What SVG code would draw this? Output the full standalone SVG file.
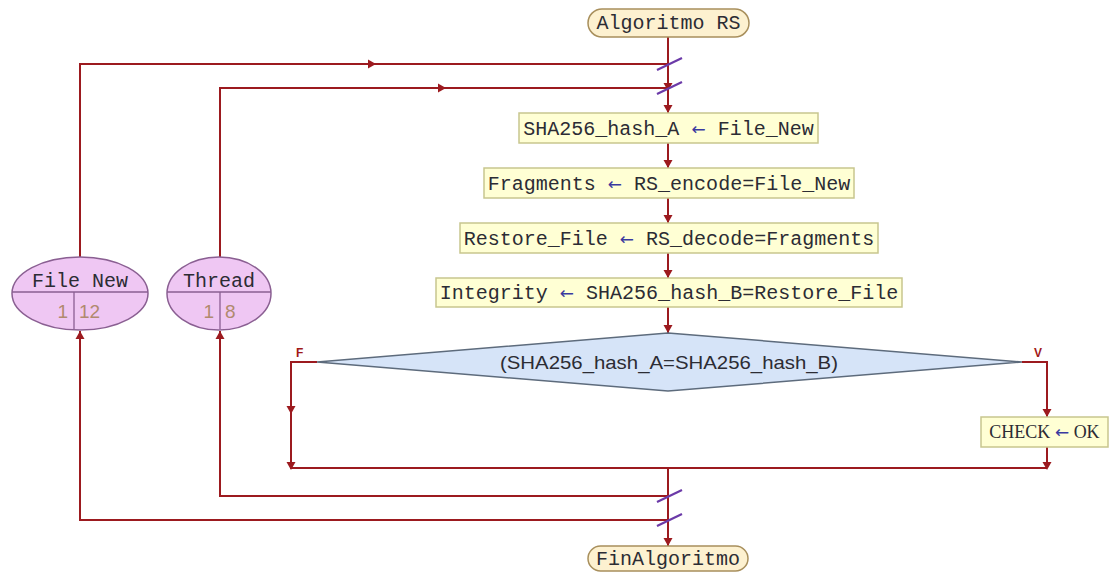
<svg xmlns="http://www.w3.org/2000/svg" width="1110" height="574" viewBox="0 0 1110 574">
<style>
.ln{fill:none;stroke:#9c1a1f;stroke-width:2}
.ah{fill:#9c1a1f}
.sl{stroke:#6b3aa8;stroke-width:2.2}
.term{fill:#fdf1d0;stroke:#a88f5c;stroke-width:1.5}
.box{fill:#ffffd4;stroke:#c8c68e;stroke-width:1.5}
.ell{fill:#efc7f3;stroke:#8a5f92;stroke-width:1.5}
.dia{fill:#d6e4f8;stroke:#5d6b7c;stroke-width:1.5}
.mono{font-family:"Liberation Mono","DejaVu Sans Mono",monospace;font-size:20px;fill:#2c2c34}
.arr{fill:#3a3aa0;font-family:"DejaVu Sans",sans-serif;font-weight:normal;font-size:17px}
.num{font-family:"Liberation Sans",Arial,sans-serif;font-size:19px;fill:#b08a6e}
.lbl{font-family:"Liberation Sans",Arial,sans-serif;font-size:12px;font-weight:bold;fill:#a01818}
</style>
<defs>
<path id="dn" d="M-4.5,-8 L4.5,-8 L0,0 Z"/>
</defs>

<g id="connectors">
<path class="ln" d="M668,37 V113"/>
<path class="ln" d="M80,258 V64 H668"/>
<path class="ln" d="M220,258 V88 H668"/>
<path class="ln" d="M668,143 V168"/>
<path class="ln" d="M668,198 V223"/>
<path class="ln" d="M668,253 V278"/>
<path class="ln" d="M668,307 V333"/>
<path class="ln" d="M317,362 H291 V468 H1047"/>
<path class="ln" d="M1022,362 H1047 V417"/>
<path class="ln" d="M1047,447 V468"/>
<path class="ln" d="M668,468 V546"/>
<path class="ln" d="M668,496 H220 V331"/>
<path class="ln" d="M668,520 H80 V331"/>
<use href="#dn" class="ah" transform="translate(668,91)"/>
<use href="#dn" class="ah" transform="translate(668,113)"/>
<use href="#dn" class="ah" transform="translate(668,168)"/>
<use href="#dn" class="ah" transform="translate(668,223)"/>
<use href="#dn" class="ah" transform="translate(668,278)"/>
<use href="#dn" class="ah" transform="translate(668,333)"/>
<use href="#dn" class="ah" transform="translate(291,414)"/>
<use href="#dn" class="ah" transform="translate(291,470)"/>
<use href="#dn" class="ah" transform="translate(1047,417)"/>
<use href="#dn" class="ah" transform="translate(1047,470)"/>
<use href="#dn" class="ah" transform="translate(668,546)"/>
<use href="#dn" class="ah" transform="translate(376,64) rotate(-90)"/>
<use href="#dn" class="ah" transform="translate(446,88) rotate(-90)"/>
<use href="#dn" class="ah" transform="translate(80,331) rotate(180)"/>
<use href="#dn" class="ah" transform="translate(220,331) rotate(180)"/>
<line class="sl" x1="657" y1="70" x2="682" y2="58"/>
<line class="sl" x1="657" y1="94" x2="682" y2="82"/>
<line class="sl" x1="657" y1="502" x2="682" y2="490"/>
<line class="sl" x1="657" y1="526" x2="682" y2="514"/>
<text class="lbl" x="296" y="357">F</text>
<text class="lbl" x="1034" y="357">V</text>
</g>

<g id="start">
<rect class="term" x="588" y="9" width="161" height="28" rx="14"/>
<text class="mono" x="668.5" y="29" text-anchor="middle">Algoritmo RS</text>
</g>

<g id="file-new">
<ellipse class="ell" cx="80" cy="293.5" rx="68" ry="36.5"/>
<line x1="12" y1="292" x2="148" y2="292" stroke="#8a5f92" stroke-width="1.3"/>
<line x1="74" y1="292" x2="74" y2="329" stroke="#8a5f92" stroke-width="1.3"/>
<text class="mono" x="80" y="287" text-anchor="middle">File New</text>
<text class="num" x="68" y="318" text-anchor="end">1</text>
<text class="num" x="79" y="318">12</text>
</g>

<g id="thread">
<ellipse class="ell" cx="219" cy="293.5" rx="52" ry="36.5"/>
<line x1="167" y1="292" x2="271" y2="292" stroke="#8a5f92" stroke-width="1.3"/>
<line x1="220" y1="292" x2="220" y2="329" stroke="#8a5f92" stroke-width="1.3"/>
<text class="mono" x="219" y="287" text-anchor="middle">Thread</text>
<text class="num" x="214" y="318" text-anchor="end">1</text>
<text class="num" x="225" y="318">8</text>
</g>

<g id="box1">
<rect class="box" x="519" y="113" width="299" height="30"/>
<text class="mono" x="668.5" y="135" text-anchor="middle">SHA256_hash_A <tspan class="arr">←</tspan> File_New</text>
</g>

<g id="box2">
<rect class="box" x="484" y="168" width="370" height="30"/>
<text class="mono" x="669" y="190" text-anchor="middle">Fragments <tspan class="arr">←</tspan> RS_encode=File_New</text>
</g>

<g id="box3">
<rect class="box" x="460" y="223" width="418" height="30"/>
<text class="mono" x="669" y="245" text-anchor="middle">Restore_File <tspan class="arr">←</tspan> RS_decode=Fragments</text>
</g>

<g id="box4">
<rect class="box" x="436" y="278" width="466" height="29"/>
<text class="mono" x="669" y="299" text-anchor="middle">Integrity <tspan class="arr">←</tspan> SHA256_hash_B=Restore_File</text>
</g>

<g id="decision">
<polygon class="dia" points="668,333 1022,362 668,391 317,362"/>
<text x="669" y="369" text-anchor="middle" textLength="338" lengthAdjust="spacingAndGlyphs" font-family="Liberation Sans, Arial, sans-serif" font-size="19" fill="#2c2c34">(SHA256_hash_A=SHA256_hash_B)</text>
</g>

<g id="check">
<rect class="box" x="981" y="417" width="127" height="30"/>
<text x="1044.5" y="438" text-anchor="middle" font-family="Liberation Serif, Times New Roman, serif" font-size="18" fill="#2c2c34">CHECK <tspan class="arr">←</tspan> OK</text>
</g>

<g id="end">
<rect class="term" x="588" y="546" width="160" height="25" rx="12.5"/>
<text class="mono" x="668" y="565" text-anchor="middle">FinAlgoritmo</text>
</g>
</svg>
